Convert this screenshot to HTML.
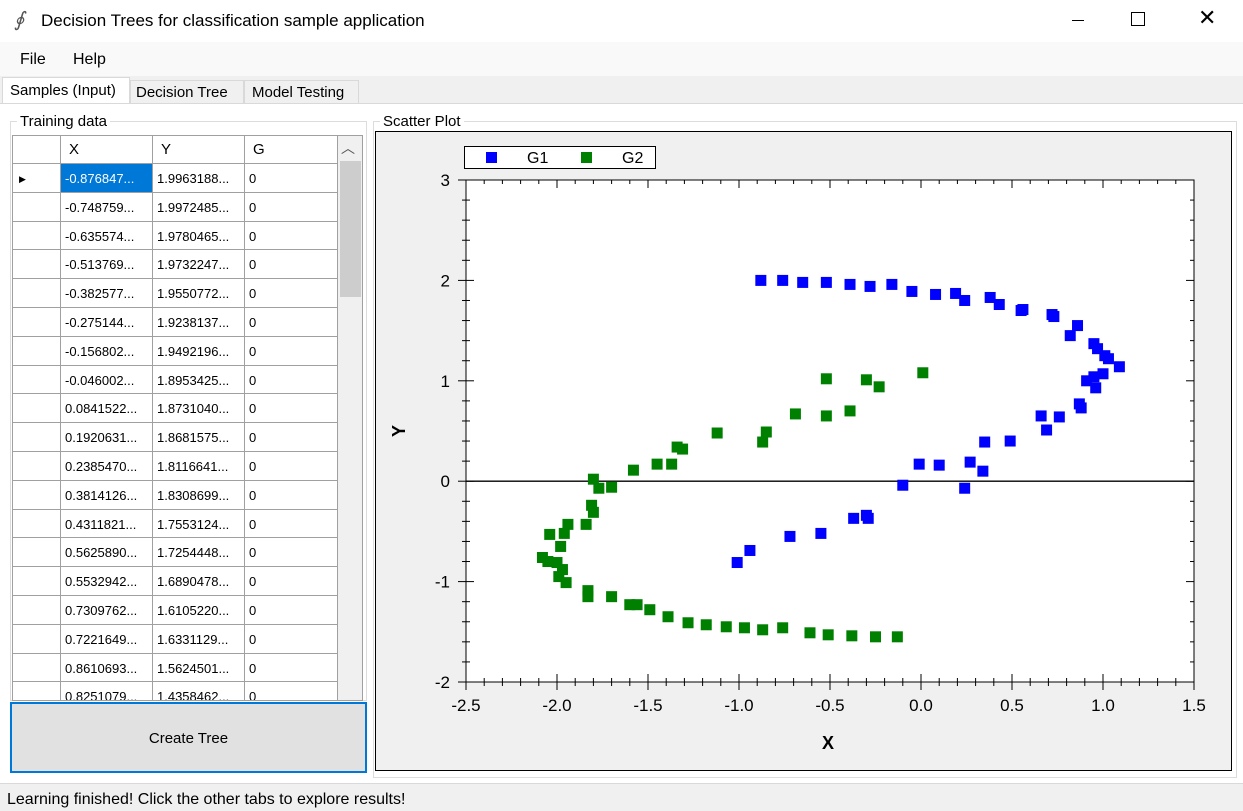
<!DOCTYPE html>
<html><head><meta charset="utf-8"><style>
*{box-sizing:border-box}
body{margin:0;width:1243px;height:811px;position:relative;background:#fff;font-family:"Liberation Sans",sans-serif;overflow:hidden;font-size:15px;color:#000}
.abs{position:absolute}
.cell{position:absolute;border-right:1px solid #a0a0a0;border-bottom:1px solid #a0a0a0;font-size:13px;padding:7px 0 0 4px;white-space:nowrap;overflow:hidden;background:#fff}
</style></head><body>
<div class="abs" style="left:0;top:0;width:1243px;height:42px;background:#fff">
 <span class="abs" style="left:14px;top:7px;font-size:20px;font-style:italic;color:#555">∮</span>
 <span class="abs" style="left:41px;top:11px;font-size:17px">Decision Trees for classification sample application</span>
 <span class="abs" style="left:1072px;top:20px;width:12px;border-top:1px solid #000"></span>
 <span class="abs" style="left:1131px;top:12px;width:14px;height:14px;border:1px solid #000"></span>
 <span class="abs" style="left:1198px;top:5px;font-size:22px;font-weight:300">✕</span>
</div>
<div class="abs" style="left:0;top:42px;width:1243px;height:34px;background:#f9f9f9">
 <span class="abs" style="left:20px;top:9px;font-size:16px">File</span>
 <span class="abs" style="left:73px;top:9px;font-size:16px">Help</span>
</div>
<div class="abs" style="left:0;top:76px;width:1243px;height:28px;background:#f0f0f0"></div>
<div class="abs" style="left:2px;top:77px;width:128px;height:27px;background:#fff;border:1px solid #d9d9d9;border-bottom:none;font-size:15px;padding:4px 0 0 7px">Samples (Input)</div>
<div class="abs" style="left:130px;top:80px;width:114px;height:24px;background:#f0f0f0;border:1px solid #d9d9d9;font-size:15px;padding:3px 0 0 5px">Decision Tree</div>
<div class="abs" style="left:244px;top:80px;width:115px;height:24px;background:#f0f0f0;border:1px solid #d9d9d9;font-size:15px;padding:3px 0 0 7px">Model Testing</div>
<div class="abs" style="left:0;top:103px;width:1243px;height:680px;background:#fff;border-top:1px solid #d9d9d9"></div>
<div class="abs" style="left:10px;top:121px;width:357px;height:580px;border:1px solid #dcdcdc"></div>
<span class="abs" style="left:17px;top:113px;background:#fff;padding:0 3px;font-size:15px">Training data</span>
<div class="abs" id="grid" style="left:12px;top:135px;width:351px;height:566px;overflow:hidden;background:#fff;border:1px solid #a0a0a0"></div>
<div class="abs" style="left:10px;top:702px;width:357px;height:71px;background:#e1e1e1;border:2px solid #0078d7;text-align:center;padding-top:26px;font-size:15px">Create Tree</div>
<div class="abs" style="left:373px;top:121px;width:864px;height:657px;border:1px solid #dcdcdc"></div>
<span class="abs" style="left:380px;top:113px;background:#fff;padding:0 3px;font-size:15px">Scatter Plot</span>
<svg class="abs" id="chart" style="left:375px;top:131px" width="857" height="640"></svg>
<div class="abs" style="left:0;top:783px;width:1243px;height:28px;background:#f0f0f0;border-top:1px solid #d9d9d9">
 <span class="abs" style="left:7px;top:7px;font-size:16px">Learning finished! Click the other tabs to explore results!</span>
</div>
<script>
const gridX=["-0.876847...","-0.748759...","-0.635574...","-0.513769...","-0.382577...","-0.275144...","-0.156802...","-0.046002...","0.0841522...","0.1920631...","0.2385470...","0.3814126...","0.4311821...","0.5625890...","0.5532942...","0.7309762...","0.7221649...","0.8610693...","0.8251079..."];
const gridY=["1.9963188...","1.9972485...","1.9780465...","1.9732247...","1.9550772...","1.9238137...","1.9492196...","1.8953425...","1.8731040...","1.8681575...","1.8116641...","1.8308699...","1.7553124...","1.7254448...","1.6890478...","1.6105220...","1.6331129...","1.5624501...","1.4358462..."];
const g=document.getElementById('grid');
function cell(x,y,w,h,t,name){const d=document.createElement('div');d.className='cell';d.style.left=x+'px';d.style.top=y+'px';d.style.width=w+'px';d.style.height=h+'px';d.textContent=t;


g.appendChild(d);return d;}
const cols=[[0,48],[48,92],[140,92],[232,93]];
const hdr=["","X","Y","G"];
hdr.forEach((h,i)=>{const d=cell(cols[i][0],0,cols[i][1],28,h,'column-header');d.style.fontSize='15px';d.style.padding='5px 0 0 8px';});
for(let r=0;r<gridX.length;r++){const y=Math.round(28+r*28.8);const h=Math.round(28+(r+1)*28.8)-y;
 const rh=cell(0,y,48,h,r==0?'▶':'','row-header');rh.style.fontSize='9px';rh.style.padding='10px 0 0 6px';
 const c1=cell(48,y,92,h,gridX[r],'cell-x');if(r==0){c1.style.background='#0078d7';c1.style.color='#fff';}
 cell(140,y,92,h,gridY[r],'cell-y');cell(232,y,93,h,'0','cell-g');}
const sb=document.createElement('div');sb.style.cssText='position:absolute;left:325px;top:0;width:25px;height:566px;background:#f0f0f0';


sb.innerHTML='<div style="position:absolute;left:3px;top:2px;font-size:14px;color:#555">︿</div><div style="position:absolute;left:2px;top:25px;width:21px;height:136px;background:#cdcdcd"></div>';
g.appendChild(sb);

const g1x=[-0.88,-0.76,-0.65,-0.52,-0.39,-0.28,-0.16,-0.05,0.08,0.19,0.24,0.38,0.43,0.56,0.55,0.72,0.73,0.86,0.82,0.95,0.97,1.01,1.03,1.09,1.00,0.91,0.95,0.96,0.87,0.88,0.66,0.76,0.69,0.35,0.49,-0.01,0.10,0.27,0.34,-0.10,0.24,-0.37,-0.29,-0.30,-0.72,-0.55,-0.94,-1.01];
const g1y=[2.00,2.00,1.98,1.98,1.96,1.94,1.96,1.89,1.86,1.87,1.80,1.83,1.76,1.71,1.70,1.66,1.64,1.55,1.45,1.37,1.32,1.25,1.22,1.14,1.07,1.00,1.04,0.93,0.77,0.73,0.65,0.64,0.51,0.39,0.40,0.17,0.16,0.19,0.10,-0.04,-0.07,-0.37,-0.37,-0.34,-0.55,-0.52,-0.69,-0.81];
const g2x=[-0.52,-0.30,-0.23,0.01,-0.69,-0.52,-0.39,-1.12,-0.85,-0.87,-1.34,-1.31,-1.58,-1.45,-1.37,-1.80,-1.77,-1.70,-1.81,-1.80,-1.94,-1.84,-1.96,-2.04,-1.98,-2.08,-2.05,-2.00,-1.97,-1.99,-1.95,-1.83,-1.83,-1.70,-1.60,-1.56,-1.49,-1.39,-1.28,-1.18,-1.07,-0.97,-0.87,-0.76,-0.61,-0.51,-0.38,-0.25,-0.13];
const g2y=[1.02,1.01,0.94,1.08,0.67,0.65,0.70,0.48,0.49,0.39,0.34,0.32,0.11,0.17,0.17,0.02,-0.07,-0.06,-0.24,-0.31,-0.43,-0.43,-0.52,-0.53,-0.65,-0.76,-0.80,-0.81,-0.88,-0.95,-1.01,-1.09,-1.15,-1.15,-1.23,-1.23,-1.28,-1.35,-1.41,-1.43,-1.45,-1.46,-1.48,-1.46,-1.51,-1.53,-1.54,-1.55,-1.55];
const xTicks=[-2.5,-2.0,-1.5,-1.0,-0.5,0.0,0.5,1.0,1.5];
const yTicks=[-2,-1,0,1,2,3];

const svg=document.getElementById('chart');const NS='http://www.w3.org/2000/svg';
function el(t,a,name){const e=document.createElementNS(NS,t);for(const k in a)e.setAttribute(k,a[k]);


svg.appendChild(e);return e;}
const L=91,R=819,T=49,B=551;
const sx=v=>L+(v+2.5)/4*(R-L);
const sy=v=>B-(v+2)/5*(B-T);
el('rect',{x:0.5,y:0.5,width:856,height:639,fill:'#f0f0f0',stroke:'#000'},'chart-background');
el('rect',{x:L,y:T,width:R-L,height:B-T,fill:'#fff',stroke:'#000'},'plot-area');
for(let v=-2.5;v<=1.501;v+=0.1){const x=sx(v);const major=Math.abs(v*2-Math.round(v*2))<1e-6;const len=major?8:4;
 el('line',{x1:x,x2:x,y1:T,y2:T+len,stroke:'#000'},'x-tick-top');
 el('line',{x1:x,x2:x,y1:B-len,y2:B+len,stroke:'#000'},'x-tick');}
for(let v=-2;v<=3.001;v+=0.2){const y=sy(v);const major=Math.abs(v-Math.round(v))<1e-6;const len=major?8:4;
 el('line',{x1:L-len,x2:L+len,y1:y,y2:y,stroke:'#000'},'y-tick');
 el('line',{x1:R-len,x2:R,y1:y,y2:y,stroke:'#000'},'y-tick-right');}
xTicks.forEach(v=>{const t=el('text',{x:sx(v),y:B+29,'text-anchor':'middle','font-size':17,'font-family':'Liberation Sans, sans-serif'},'x-tick-label');t.textContent=v.toFixed(1);});
yTicks.forEach(v=>{const t=el('text',{x:L-16,y:sy(v)+6,'text-anchor':'end','font-size':17,'font-family':'Liberation Sans, sans-serif'},'y-tick-label');t.textContent=v;});
el('line',{x1:L,x2:R,y1:sy(0),y2:sy(0),stroke:'#000','stroke-width':1.3},'zero-line');
const xt=el('text',{x:453,y:618,'text-anchor':'middle','font-size':18,'font-weight':'bold','font-family':'Liberation Sans, sans-serif'},'x-axis-title');xt.textContent='X';
const yt=el('text',{x:0,y:0,'text-anchor':'middle','font-size':18,'font-weight':'bold','font-family':'Liberation Sans, sans-serif',transform:'translate(30,300) rotate(-90)'},'y-axis-title');yt.textContent='Y';
g1x.forEach((v,i)=>el('rect',{x:sx(v)-5.5,y:sy(g1y[i])-5.5,width:11,height:11,fill:'#0000ff'},'point-g1'));
g2x.forEach((v,i)=>el('rect',{x:sx(v)-5.5,y:sy(g2y[i])-5.5,width:11,height:11,fill:'#008000'},'point-g2'));
el('rect',{x:89.5,y:15.5,width:191,height:22,fill:'#fff',stroke:'#000'},'legend');
el('rect',{x:111,y:21,width:11,height:11,fill:'#0000ff'},'legend-marker-g1');
const l1=el('text',{x:152,y:32,'font-size':16,'font-family':'Liberation Sans, sans-serif'},'legend-entry-g1');l1.textContent='G1';
el('rect',{x:206,y:21,width:11,height:11,fill:'#008000'},'legend-marker-g2');
const l2=el('text',{x:247,y:32,'font-size':16,'font-family':'Liberation Sans, sans-serif'},'legend-entry-g2');l2.textContent='G2';
</script>
</body></html>
